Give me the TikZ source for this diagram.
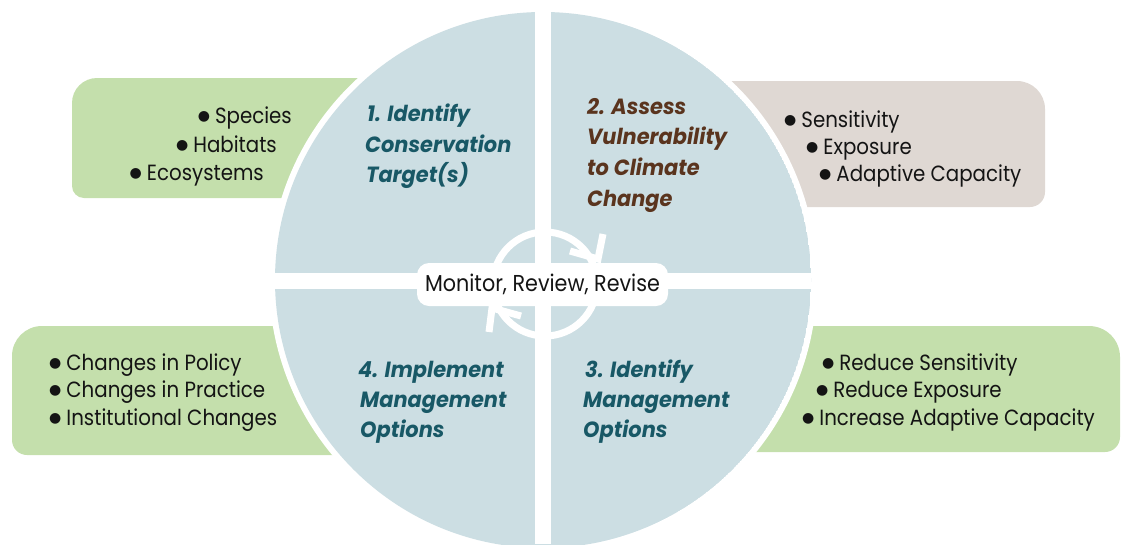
\documentclass[tikz,border=0pt]{standalone}
\usepackage{fontspec}
\newfontfamily\bodyfont{Poppins}[FakeStretch=0.9]
\newfontfamily\titlefont{Poppins}[FakeStretch=0.95]
\newfontfamily\symfont{DejaVu Sans}
\newcommand\bul{\raisebox{3pt}{\symfont\fontsize{14}{14}\selectfont ●}\hspace{5pt}}
\definecolor{circ}{RGB}{204,222,227}
\definecolor{leaf}{RGB}{196,223,172}
\definecolor{sand}{RGB}{223,216,211}
\definecolor{teal}{RGB}{24,88,102}
\definecolor{bark}{RGB}{90,52,30}
\definecolor{ink}{RGB}{20,20,20}
\begin{document}
\begin{tikzpicture}[x=1pt,y=-1pt,
  item/.style={inner sep=0pt, text=ink, font=\bodyfont\fontsize{22}{26}\selectfont},
  ttl/.style={inner sep=0pt, anchor=base west, font=\titlefont\bfseries\itshape\fontsize{22}{31}\selectfont},
  ringline/.style={white, line width=7pt},
  labelbox/.style={fill=white, rounded corners=12pt, minimum width=251pt, minimum height=43pt, inner sep=0pt, text=ink, font=\bodyfont\fontsize{23}{26}\selectfont}]
\useasboundingbox (0,0) rectangle (1121,544);
% side boxes
\fill[leaf] (420,78) -- (97,78) arc[start angle=270,end angle=180,radius=25] -- (72,186) arc[start angle=180,end angle=90,radius=12] -- (420,198) -- cycle;
\fill[sand] (680,81) -- (1017,81) arc[start angle=270,end angle=360,radius=28] -- (1045,192) arc[start angle=0,end angle=90,radius=15] -- (680,207) -- cycle;
\fill[leaf] (420,326) -- (42,326) arc[start angle=270,end angle=180,radius=30] -- (12,440) arc[start angle=180,end angle=90,radius=15] -- (420,455) -- cycle;
\fill[leaf] (680,326) -- (1089,326) arc[start angle=270,end angle=360,radius=31] -- (1120,437) arc[start angle=0,end angle=90,radius=15] -- (680,452) -- cycle;
% circle
\fill[white] (543,280) circle[radius=274];
\begin{scope}
  \clip (543,280) circle[radius=268];
  \fill[circ] (543,280) circle[radius=268];
  \fill[white] (535,0) rectangle (551,544);
  \fill[white] (260,273) rectangle (830,289);
\end{scope}
% inner cycle
\coordinate (hub) at (545,284);
\draw[ringline] (hub) circle[radius=52];
\coordinate (tipA) at (598,259);
\coordinate (barbA1) at (603,234);
\coordinate (barbA2) at (570,251);
\coordinate (tipB) at (492,308);
\coordinate (barbB1) at (489,332);
\coordinate (barbB2) at (521,316);
\draw[ringline] (barbA1) -- (tipA) -- (barbA2);
\draw[ringline] (barbB1) -- (tipB) -- (barbB2);
\node[labelbox] (mrr) at (542.5,284.5) {Monitor, Review, Revise};
% titles
\node[ttl,text=teal] (t1a) at (367,121) {1. Identify};
\node[ttl,text=teal] (t1b) at (365,152) {Conservation};
\node[ttl,text=teal] (t1c) at (366,182) {Target(s)};
\node[ttl,text=bark] (t2a) at (587,114) {2. Assess};
\node[ttl,text=bark] (t2b) at (587,144) {Vulnerability};
\node[ttl,text=bark] (t2c) at (587,175) {to Climate};
\node[ttl,text=bark] (t2d) at (587,206) {Change};
\node[ttl,text=teal] (t3a) at (585,377) {3. Identify};
\node[ttl,text=teal] (t3b) at (583,407) {Management};
\node[ttl,text=teal] (t3c) at (583,437) {Options};
\node[ttl,text=teal] (t4a) at (358,377) {4. Implement};
\node[ttl,text=teal] (t4b) at (360,407) {Management};
\node[ttl,text=teal] (t4c) at (360,437) {Options};
% bullet lists
\node[item,anchor=base east] (a1) at (292,123) {\bul Species};
\node[item,anchor=base east] (a2) at (277,152) {\bul Habitats};
\node[item,anchor=base east] (a3) at (264,180) {\bul Ecosystems};
\node[item,anchor=base west] (b1) at (784,127) {\bul Sensitivity};
\node[item,anchor=base west] (b2) at (806,154) {\bul Exposure};
\node[item,anchor=base west] (b3) at (819,181) {\bul Adaptive Capacity};
\node[item,anchor=base west] (c1) at (49,370) {\bul Changes in Policy};
\node[item,anchor=base west] (c2) at (49,397) {\bul Changes in Practice};
\node[item,anchor=base west] (c3) at (49,425) {\bul Institutional Changes};
\node[item,anchor=base west] (d1) at (822,370) {\bul Reduce Sensitivity};
\node[item,anchor=base west] (d2) at (816,397) {\bul Reduce Exposure};
\node[item,anchor=base west] (d3) at (802,425) {\bul Increase Adaptive Capacity};
\end{tikzpicture}
\end{document}
